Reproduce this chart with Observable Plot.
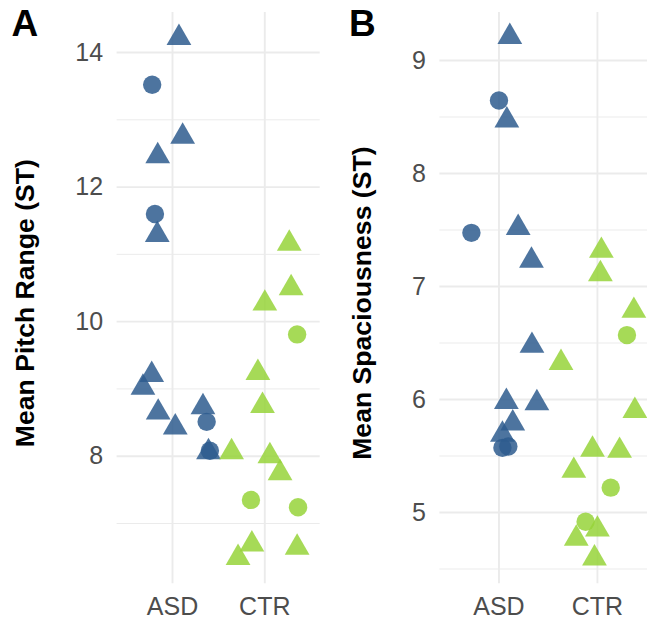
<!DOCTYPE html>
<html><head><meta charset="utf-8">
<script src="https://cdn.jsdelivr.net/npm/d3@7"></script>
<script src="https://cdn.jsdelivr.net/npm/@observablehq/plot@0.6"></script>
<style>
html,body{margin:0;padding:0;background:#fff;overflow:hidden;}
#wrap{position:relative;width:647px;height:620px;overflow:hidden;font-family:"Liberation Sans",Arial,sans-serif;}
.pl{position:absolute;top:0;}
.tag{position:absolute;font-weight:bold;font-size:37px;line-height:1;color:#000;top:5.4px;}
</style></head><body>
<div id="wrap"></div>
<script>
const groups = ["ASD", "CTR"];
const shapes = ["circle", "triangle"];

// Panel A: Mean Pitch Range (ST)
const pitchGroup  = ["ASD","ASD","ASD","ASD","ASD","ASD","ASD","ASD","ASD","ASD","ASD","ASD","ASD","ASD",
                     "CTR","CTR","CTR","CTR","CTR","CTR","CTR","CTR","CTR","CTR","CTR","CTR","CTR","CTR"];
const pitchShape  = ["triangle","circle","triangle","triangle","circle","triangle","triangle","triangle","triangle","triangle","triangle","circle","triangle","circle",
                     "triangle","triangle","triangle","circle","triangle","triangle","triangle","triangle","triangle","circle","circle","triangle","triangle","triangle"];
const pitchValue  = [14.22, 13.52, 12.75, 12.46, 11.60, 11.29, 9.21, 9.02, 8.65, 8.43, 8.73, 8.51, 8.06, 8.08,
                     11.16, 10.50, 10.27, 9.81, 9.24, 8.75, 8.06, 8.00, 7.75, 7.35, 7.24, 6.69, 6.49, 6.64];
const pitchJitter = [0.07, -0.22, 0.11, -0.16, -0.19, -0.165, -0.225, -0.32, -0.155, 0.03, 0.33, 0.37, 0.39, 0.405,
                     0.265, 0.285, 0.0, 0.35, -0.075, -0.025, -0.36, 0.055, 0.165, -0.15, 0.36, -0.14, -0.29, 0.35];

// Panel B: Mean Spaciousness (ST)
const spaceGroup  = ["ASD","ASD","ASD","ASD","ASD","ASD","ASD","ASD","ASD","ASD","ASD","ASD","ASD",
                     "CTR","CTR","CTR","CTR","CTR","CTR","CTR","CTR","CTR","CTR","CTR","CTR","CTR","CTR"];
const spaceShape  = ["triangle","circle","triangle","circle","triangle","triangle","triangle","triangle","triangle","triangle","triangle","circle","circle",
                     "triangle","triangle","triangle","circle","triangle","triangle","triangle","triangle","triangle","circle","circle","triangle","triangle","triangle"];
const spaceValue  = [9.21, 8.646, 8.47, 7.475, 7.52, 7.23, 6.476, 5.98, 5.968, 5.79, 5.69, 5.572, 5.584,
                     7.317, 7.11, 6.786, 6.57, 6.325, 5.90, 5.557, 5.547, 5.37, 5.22, 4.918, 4.85, 4.77, 4.595];
const spaceJitter = [0.11, 0.0, 0.08, -0.28, 0.195, 0.33, 0.335, 0.075, 0.385, 0.14, 0.035, 0.035, 0.095,
                     0.04, 0.03, 0.37, 0.30, -0.37, 0.38, -0.05, 0.225, -0.24, 0.135, -0.12, 0.0, -0.215, -0.03];

const pitchMajor = [8, 10, 12, 14], pitchMinor = [7, 9, 11, 13];
const spaceMajor = [5, 6, 7, 8, 9], spaceMinor = [4.5, 5.5, 6.5, 7.5, 8.5];

const groupColors = ["#2e5c8e", "#97d33a"];

function rowsOf(g, s, v, j) {
  return v.map((val, i) => ({group: g[i], shape: s[i], value: val, x: groups.indexOf(g[i]) + 1 + j[i]}));
}

function panel({left, width, marginLeft, marginRight, yDomain, majors, minors, rows, title, titleDx}) {
  const svg = Plot.plot({
    width, height: 620, marginTop: 12, marginBottom: 36.7, marginLeft, marginRight,
    style: {fontFamily: "'Liberation Sans', Arial, sans-serif", fontSize: "25px", color: "#4d4d4d", background: "transparent", overflow: "visible"},
    x: {domain: [0.4, 2.6], ticks: [1, 2], tickFormat: d => groups[d - 1], tickSize: 0, tickPadding: 13, label: null},
    y: {domain: yDomain, ticks: majors, tickFormat: d => String(d), tickSize: 0, tickPadding: 14, label: null},
    color: {domain: groups, range: groupColors},
    symbol: {domain: shapes, range: shapes},
    marks: [
      Plot.ruleY(minors, {stroke: "#ebebeb", strokeWidth: 1}),
      Plot.ruleY(majors, {stroke: "#ebebeb", strokeWidth: 1.9}),
      Plot.ruleX([1, 2], {stroke: "#ebebeb", strokeWidth: 1.9}),
      Plot.dot(rows, {x: "x", y: "value", fill: "group", symbol: "shape", r: 9.2, fillOpacity: 0.85, stroke: "none"}),
      Plot.text([title], {text: d => d, frameAnchor: "left", textAnchor: "middle", rotate: -90, dx: titleDx, dy: 5, lineAnchor: "bottom",
        fontWeight: "bold", fontSize: 26.6, fill: "#000"})
    ]
  });
  svg.classList.add("pl");
  svg.style.left = left + "px";
  document.getElementById("wrap").appendChild(svg);
}

panel({left: 0, width: 325, marginLeft: 116.6, marginRight: 5.3, yDomain: [6.103, 14.595],
  majors: pitchMajor, minors: pitchMinor, rows: rowsOf(pitchGroup, pitchShape, pitchValue, pitchJitter),
  title: "Mean Pitch Range (ST)", titleDx: -83.4});
panel({left: 320, width: 336, marginLeft: 119.4, marginRight: 0, yDomain: [4.369, 9.425],
  majors: spaceMajor, minors: spaceMinor, rows: rowsOf(spaceGroup, spaceShape, spaceValue, spaceJitter),
  title: "Mean Spaciousness (ST)", titleDx: -68.6});

const wrap = document.getElementById("wrap");
for (const [t, l] of [["A", 11.5], ["B", 349]]) {
  const d = document.createElement("div");
  d.className = "tag"; d.textContent = t; d.style.left = l + "px";
  wrap.appendChild(d);
}
</script>
</body></html>
